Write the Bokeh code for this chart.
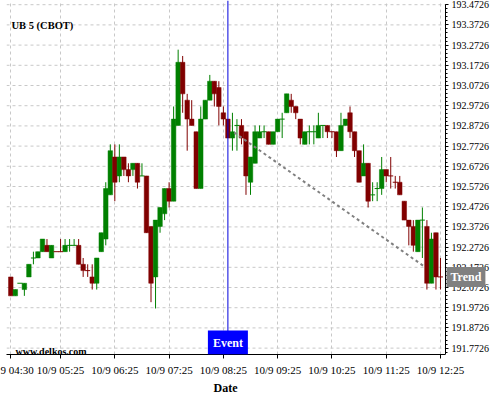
from bokeh.plotting import figure
from bokeh.models import (Range1d, FixedTicker, Label, Span, ColumnDataSource,
                          PrintfTickFormatter, Title)
from bokeh.embed import file_html
from bokeh.resources import INLINE

# 5-minute bars, minutes after midnight (04:30 ... 12:25) on 10/9
bar_minutes = list(range(270, 750, 5))

# prices quoted as 192 + x/32 (32nds above 192)
open_32 = [4,1,3,2,4,7,7,8,9,7, 8,8,8,9,9,9,6,5,4,3, 8,10,17,23,20,23,21,21,22,20,
           20,12,4,12,14,18,16,28,38,32, 29,27,18,29,32,35,34,30,29,26, 28,28,27,19,22,26,27,27,25,27,
           29,30,32,31,29,25,27,27,26,28, 28,27,27,24,28,30,27,24,20,22, 17,18,18,21,20,19,19,16,13,12,
           8,13,12,3,11,4]
high_32 = [4,2,3,3,6,8,8,10,10,9, 8,10,10,10,10,10,7,6,6,7, 11,19,25,25,25,23,22,22,22,22,
           20,12,13,15,18,19,31,40,39,33, 32,27,31,32,36,35,35,31,29,30, 29,29,27,23,28,28,28,27,27,29,
           30,33,33,31,29,27,28,28,30,28, 28,27,27,30,29,31,27,24,25,22, 19,19,23,21,23,20,20,16,13,13,
           13,15,13,11,11,7]
low_32 = [1,1,3,1,4,6,7,8,8,7, 8,8,8,8,9,6,4,4,2,2, 8,9,17,16,19,20,19,20,18,20,
          11,0,-1,11,13,15,16,28,30,24, 28,18,18,29,32,31,28,28,26,24, 24,25,17,17,22,26,26,25,25,27,
          26,30,30,29,25,25,25,25,26,26, 26,26,23,24,28,26,23,19,20,15, 16,16,17,19,18,18,17,13,9,8,
          8,7,2,3,2,2]
close_32 = [1,2,3,3,6,7,8,10,8,9, 8,8,9,9,9,6,5,5,3,7, 11,18,24,19,23,21,20,22,19,20,
            11,3,13,15,18,16,29,38,33,29, 28,18,29,32,35,33,31,29,26,27, 28,26,20,23,27,27,27,25,27,29,
            29,33,31,30,26,27,27,27,28,28, 27,27,24,28,29,27,24,19,22,16, 17,18,21,20,20,19,17,13,12,9,
            13,13,3,10,4,4]

opens = [192 + v / 32 for v in open_32]
highs = [192 + v / 32 for v in high_32]
lows = [192 + v / 32 for v in low_32]
closes = [192 + v / 32 for v in close_32]

y_ticks = [191.7726, 191.8726, 191.9726, 192.0726, 192.1726, 192.2726, 192.3726, 192.4726, 192.5726,
           192.6726, 192.7726, 192.8726, 192.9726, 193.0726, 193.1726, 193.2726, 193.3726, 193.4726]
x_ticks = [270, 325, 385, 445, 505, 565, 625, 685, 745]
x_tick_labels = ["10/9 04:30", "10/9 05:25", "10/9 06:25", "10/9 07:25", "10/9 08:25",
                 "10/9 09:25", "10/9 10:25", "10/9 11:25", "10/9 12:25"]
# the first label is cut by the left page edge in the original: only "9 04:30" shows
x_tick_labels_shown = [x_tick_labels[0][3:]] + x_tick_labels[1:]

event_minute = 510          # 10/9 08:30
trend_minutes = [517, 726]
trend_prices = [192.84, 192.18]
trend_label_price = 192.125

# view: the frame runs to the page edge; the price axis sits at X_AXIS inside it
X_START, X_AXIS, X_END = 265.25, 750.55, 811.35
Y_START, Y_AXIS_TOP, Y_END = 191.741, 193.4736, 193.4934

GREEN = "#008000"
RED = "#800000"
GRID = "#c8c8c8"
FONT = "Liberation Serif"

# candle direction (equal open/close: compare with previous close, else keep previous colour)
up = []
for k in range(len(opens)):
    if closes[k] > opens[k]:
        u = True
    elif closes[k] < opens[k]:
        u = False
    elif k > 0 and closes[k] != closes[k - 1]:
        u = closes[k] > closes[k - 1]
    else:
        u = up[k - 1] if k > 0 else True
    up.append(u)
colors = [GREEN if u else RED for u in up]

idx_body = [k for k in range(len(opens)) if opens[k] != closes[k]]
idx_doji = [k for k in range(len(opens)) if opens[k] == closes[k]]
body_src = ColumnDataSource(dict(
    x=[bar_minutes[k] for k in idx_body],
    top=[max(opens[k], closes[k]) for k in idx_body],
    bottom=[min(opens[k], closes[k]) for k in idx_body],
    color=[colors[k] for k in idx_body],
))
doji_src = ColumnDataSource(dict(
    x0=[bar_minutes[k] - 2.75 for k in idx_doji],
    x1=[bar_minutes[k] + 2.75 for k in idx_doji],
    y=[opens[k] for k in idx_doji],
    color=[colors[k] for k in idx_doji],
))
wick_src = ColumnDataSource(dict(x=bar_minutes, high=highs, low=lows, color=colors))

p = figure(width=500, height=400, output_backend="svg", toolbar_location=None,
           x_range=Range1d(X_START, X_END), y_range=Range1d(Y_START, Y_END),
           y_axis_location="right", min_border_left=6, min_border_top=0,
           min_border_right=0, min_border_bottom=46)
p.outline_line_color = None
p.background_fill_color = "white"
p.border_fill_color = "white"

# grid: vertical via Grid, horizontal lines stop at the price axis
p.xgrid.ticker = FixedTicker(ticks=x_ticks)
p.xgrid.grid_line_color = GRID
p.xgrid.grid_line_dash = "3 3"
p.ygrid.visible = False
p.segment(x0=[X_START] * len(y_ticks), x1=[X_AXIS] * len(y_ticks), y0=y_ticks, y1=y_ticks,
          line_color=GRID, line_dash="3 3", line_width=1)

# price axis (right side, fixed at X_AXIS)
ya = p.yaxis[0]
ya.fixed_location = X_AXIS
ya.bounds = (Y_START, Y_AXIS_TOP)
ya.ticker = FixedTicker(ticks=y_ticks,
                        minor_ticks=[round(191.7526 + 0.02 * k, 4) for k in range(87)])
ya.formatter = PrintfTickFormatter(format="%.4f")
ya.major_label_text_font = FONT
ya.major_label_text_font_size = "10px"
ya.major_label_text_color = "black"
ya.major_tick_out = 3
ya.major_tick_in = 0
ya.minor_tick_out = 2
ya.minor_tick_in = 0
ya.major_label_standoff = 3
ya.axis_line_color = "black"
ya.major_tick_line_color = "black"
ya.minor_tick_line_color = "black"

# time axis
xa = p.xaxis[0]
xa.bounds = (X_START, X_AXIS)
xa.ticker = FixedTicker(ticks=x_ticks, minor_ticks=[])
xa.major_label_overrides = {t: l for t, l in zip(x_ticks, x_tick_labels_shown)}
xa.major_label_text_font = FONT
xa.major_label_text_font_size = "11px"
xa.major_label_text_color = "black"
xa.major_tick_out = 4
xa.major_tick_in = 0
xa.major_label_standoff = 5
xa.axis_line_color = "black"
xa.major_tick_line_color = "black"
p.add_layout(Title(text="Date", align="left", offset=207, standoff=0, text_font=FONT,
                   text_font_size="12px", text_font_style="bold", text_color="black"), "below")

# candles
p.segment(x0="x", x1="x", y0="low", y1="high", line_color="color", line_width=1, source=wick_src)
p.vbar(x="x", width=5, top="top", bottom="bottom", fill_color="color", line_color="color",
       line_width=0.5, source=body_src)
p.segment(x0="x0", x1="x1", y0="y", y1="y", line_color="color", line_width=1, source=doji_src)

# trend line
p.line(trend_minutes, trend_prices, line_color="#808080", line_width=2, line_dash="3 3")

# event
p.add_layout(Span(location=event_minute, dimension="height", line_color="#0000dd", line_width=1))
p.add_layout(Label(x=event_minute, y=Y_START, text="Event", text_align="center",
                   text_baseline="bottom", text_font=FONT, text_font_size="12px",
                   text_font_style="bold", text_color="white", background_fill_color="#0000ff",
                   padding=5))

# "Trend" tag on the price axis
p.add_layout(Label(x=751.66, y=trend_label_price, text="Trend", text_align="left",
                   text_baseline="middle", text_font=FONT, text_font_size="12px",
                   text_font_style="bold", text_color="white", background_fill_color="#808080",
                   padding=(4, 3)))

# title and watermark
p.add_layout(Label(x=270.8, y=193.3696, text="UB 5 (CBOT)", text_font=FONT,
                   text_font_size="10.5px", text_font_style="bold", text_color="black",
                   text_baseline="alphabetic"))
p.add_layout(Label(x=275.2, y=191.756, text="www.delkos.com", text_font=FONT,
                   text_font_size="10px", text_font_style="bold", text_color="black",
                   text_baseline="alphabetic"))

open("out.html", "w").write(file_html(p, INLINE))
